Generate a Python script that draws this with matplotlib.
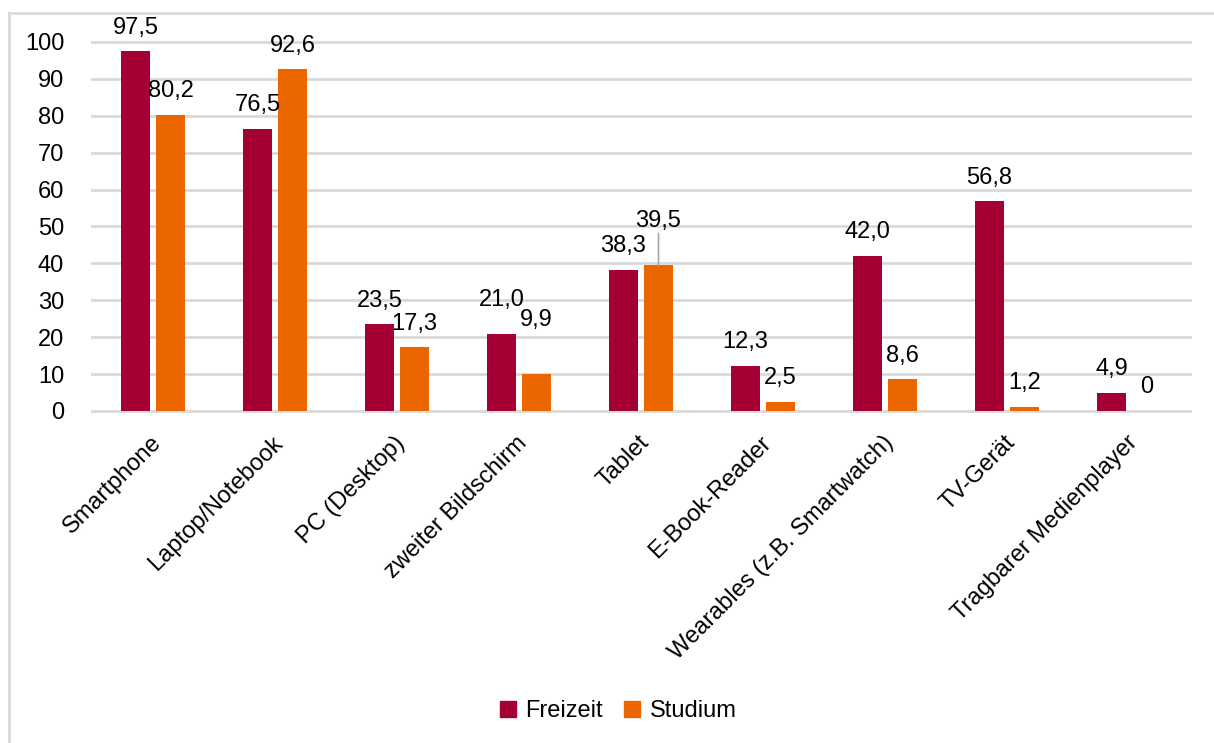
import matplotlib
matplotlib.use("Agg")
import matplotlib.pyplot as plt
import numpy as np
from matplotlib.lines import Line2D

categories = ["Smartphone", "Laptop/Notebook", "PC (Desktop)", "zweiter Bildschirm",
              "Tablet", "E-Book-Reader", "Wearables (z.B. Smartwatch)", "TV-Gerät",
              "Tragbarer Medienplayer"]
freizeit = [97.5, 76.5, 23.5, 21.0, 38.3, 12.3, 42.0, 56.8, 4.9]
studium = [80.2, 92.6, 17.3, 9.9, 39.5, 2.5, 8.6, 1.2, 0.0]
series_names = ["Freizeit", "Studium"]
yticks = [0, 10, 20, 30, 40, 50, 60, 70, 80, 90, 100]

colors = ["#A50034", "#EC6600"]
grid_color = "#D9D9D9"

plt.rcParams["font.family"] = ["Liberation Sans", "DejaVu Sans"]
fs = 17

fig = plt.figure(figsize=(12.14, 7.43), dpi=100)
W, H = 1214, 743
# plot area in pixels: left 92, right 1190, y=0 at 411, y=100 at 42
ax = fig.add_axes([92 / W, 1 - 411 / H, (1190 - 92) / W, (411 - 42) / H])
ax.set_xlim(-0.5, len(categories) - 0.5)
ax.set_ylim(0, 100)

x = np.arange(len(categories))
bw = 0.23
gap = 0.057
xf = x - (bw + gap) / 2
xs = x + (bw + gap) / 2
ax.bar(xf, freizeit, width=bw, color=colors[0], zorder=3)
ax.bar(xs, studium, width=bw, color=colors[1], zorder=3)

for y in yticks:
    ax.axhline(y, color=grid_color, lw=2, zorder=1, clip_on=False)

for s in ax.spines.values():
    s.set_visible(False)
ax.set_yticks(yticks)
ax.set_yticklabels([str(v) for v in yticks], fontsize=fs)
ax.tick_params(axis="y", length=0, pad=20)
ax.set_xticks(x)
ax.set_xticklabels([])
ax.tick_params(axis="x", length=0)

def fmt(v):
    if v == 0:
        return "0"
    return f"{v:.1f}".replace(".", ",")

# label offsets (points above bar top); a few labels sit higher
extra_f = {3: 7}
extra_s = {3: 22, 4: 15}
base = 17
for i in range(len(categories)):
    ax.annotate(fmt(freizeit[i]), (xf[i], freizeit[i]), xytext=(0, base + extra_f.get(i, 0)),
                textcoords="offset points", ha="center", va="center", fontsize=fs, zorder=5)
    ax.annotate(fmt(studium[i]), (xs[i], studium[i]), xytext=(0, base + extra_s.get(i, 0)),
                textcoords="offset points", ha="center", va="center", fontsize=fs, zorder=5)

# leader line for the Tablet / Studium label
i = 4
ax.annotate("", xy=(xs[i], studium[i]), xytext=(0, base + extra_s[i] - 9),
            xycoords="data", textcoords="offset points",
            arrowprops=dict(arrowstyle="-", color="#A6A6A6", lw=1.2, shrinkA=0, shrinkB=0),
            zorder=4)

# rotated category labels
for i, c in enumerate(categories):
    ax.annotate(c, (x[i], 0), xytext=(-2, -15), textcoords="offset points",
                rotation=45, rotation_mode="anchor", ha="right", va="top", fontsize=fs)

# legend
handles = [Line2D([], [], marker="s", linestyle="none", markersize=11, color=c) for c in colors]
fig.legend(handles, series_names, loc="center", bbox_to_anchor=(617 / W, 1 - 711 / H),
           ncol=2, frameon=False, fontsize=fs, handletextpad=0.3, columnspacing=0.8,
           handlelength=0.9)

# outer frame (top and left edges)
fig.add_artist(Line2D([8.5 / W, 1], [1 - 12.5 / H, 1 - 12.5 / H], color=grid_color, lw=2,
                      transform=fig.transFigure))
fig.add_artist(Line2D([8.5 / W, 8.5 / W], [0, 1 - 12.5 / H], color=grid_color, lw=2,
                      transform=fig.transFigure))

fig.savefig("out.png", dpi=100, facecolor="white")
